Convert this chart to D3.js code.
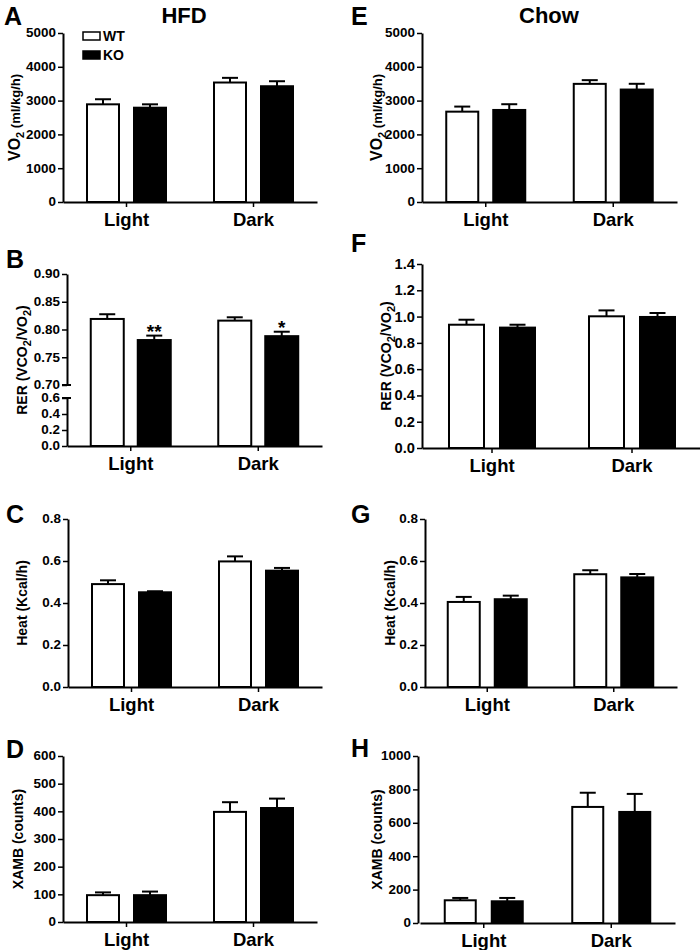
<!DOCTYPE html>
<html>
<head>
<meta charset="utf-8">
<script src="https://cdn.jsdelivr.net/npm/d3@7"></script>
<style>
  html, body { margin: 0; padding: 0; background: #fff; }
  svg text { font-family: "Liberation Sans", Arial, sans-serif; font-weight: bold; fill: #000; }
</style>
</head>
<body>
<script>
// ---------------- DATA ----------------
const categories = ["Light", "Dark"];
const series = ["WT", "KO"];

// HFD
const hfdVo2WT = [2890, 3535];
const hfdVo2KO = [2790, 3425];
const hfdVo2WTsem = [150, 138];
const hfdVo2KOsem = [100, 148];

const hfdRerWT = [0.819, 0.816];
const hfdRerKO = [0.781, 0.788];
const hfdRerWTsem = [0.0085, 0.006];
const hfdRerKOsem = [0.008, 0.008];
const hfdRerKOstars = ["**", "*"];

const hfdHeatWT = [0.490, 0.598];
const hfdHeatKO = [0.451, 0.554];
const hfdHeatWTsem = [0.018, 0.024];
const hfdHeatKOsem = [0.005, 0.013];

const hfdXambWT = [97, 398];
const hfdXambKO = [97, 412];
const hfdXambWTsem = [10, 35];
const hfdXambKOsem = [13, 34];

// Chow
const chowVo2WT = [2673, 3495];
const chowVo2KO = [2723, 3327];
const chowVo2WTsem = [150, 110];
const chowVo2KOsem = [170, 170];

const chowRerWT = [0.938, 1.002];
const chowRerKO = [0.916, 0.997];
const chowRerWTsem = [0.038, 0.045];
const chowRerKOsem = [0.022, 0.030];

const chowHeatWT = [0.405, 0.537];
const chowHeatKO = [0.418, 0.522];
const chowHeatWTsem = [0.024, 0.019];
const chowHeatKOsem = [0.017, 0.016];

const chowXambWT = [136, 695];
const chowXambKO = [130, 665];
const chowXambWTsem = [14, 85];
const chowXambKOsem = [20, 108];

// tick values
const vo2Ticks = [0, 1000, 2000, 3000, 4000, 5000];
const rerUpperTicks = [0.70, 0.75, 0.80, 0.85, 0.90];
const rerLowerTicks = [0.0, 0.2, 0.4, 0.6];
const chowRerTicks = [0.0, 0.2, 0.4, 0.6, 0.8, 1.0, 1.2, 1.4];
const heatTicks = [0.0, 0.2, 0.4, 0.6, 0.8];
const hfdXambTicks = [0, 100, 200, 300, 400, 500, 600];
const chowXambTicks = [0, 200, 400, 600, 800, 1000];

// ---------------- DRAWING ----------------
const svg = d3.select("body").append("svg").attr("width", 700).attr("height", 950);

function yLabel(g, x, yc, parts) {
  const t = g.append("text")
    .attr("transform", `translate(${x},${yc}) rotate(-90)`)
    .attr("text-anchor", "middle");
  parts.forEach(p => {
    t.append("tspan").attr("font-size", p.size).attr("dy", p.dy || 0).text(p.t);
  });
}

function styleYAxis(ax, fs, sx) {
  ax.select(".domain").attr("stroke-width", 2);
  ax.selectAll(".tick line").attr("stroke-width", 1.5);
  ax.selectAll(".tick text")
    .attr("font-size", fs)
    .attr("x", -7 / sx)
    .attr("transform", `scale(${sx},1)`);
}

function panel(cfg) {
  const g = svg.append("g");
  const x0 = d3.scaleBand().domain(categories).range([cfg.xl, cfg.xr]);
  const o = cfg.off;
  const pi = 1 - cfg.bw / (2 * o);
  const x1 = d3.scaleBand().domain(series).range([-2 * o, 2 * o]).paddingInner(pi).paddingOuter(pi / 2);
  const fs = cfg.tfs || 12, sx = cfg.tsx || 1.12;

  // y mapping
  let yMap;
  if (cfg.broken) {
    const yUp = d3.scaleLinear().domain(cfg.upDomain).range(cfg.upRange);
    const yLow = d3.scaleLinear().domain(cfg.lowDomain).range(cfg.lowRange);
    yMap = v => (v >= cfg.upDomain[0] ? yUp(v) : yLow(Math.min(v, cfg.lowDomain[1])));
    const axU = g.append("g").attr("transform", `translate(${cfg.ax},0)`)
      .call(d3.axisLeft(yUp).tickValues(cfg.upTicks).tickSize(5).tickSizeOuter(0).tickPadding(2).tickFormat(d3.format(".2f")));
    styleYAxis(axU, fs, sx);
    const axL = g.append("g").attr("transform", `translate(${cfg.ax},0)`)
      .call(d3.axisLeft(yLow).tickValues(cfg.lowTicks).tickSize(5).tickSizeOuter(0).tickPadding(2).tickFormat(d3.format(".1f")));
    styleYAxis(axL, fs, sx);
    // break caps
    [cfg.upRange[0], cfg.lowRange[1]].forEach(yy => {
      g.append("line").attr("x1", cfg.ax - 5).attr("x2", cfg.ax + 4)
        .attr("y1", yy).attr("y2", yy).attr("stroke", "#000").attr("stroke-width", 2);
    });
  } else {
    const y = d3.scaleLinear().domain([0, d3.max(cfg.ticks)]).range([cfg.yb, cfg.yt]);
    yMap = y;
    const ax = g.append("g").attr("transform", `translate(${cfg.ax},0)`)
      .call(d3.axisLeft(y).tickValues(cfg.ticks).tickSize(5).tickSizeOuter(0).tickPadding(2).tickFormat(d3.format(cfg.fmt)));
    styleYAxis(ax, fs, sx);
  }

  // x axis
  const xa = g.append("g").attr("transform", `translate(0,${cfg.yb})`)
    .call(d3.axisBottom(x0).tickSize(5).tickSizeOuter(0).tickPadding(6));
  xa.select(".domain").attr("stroke-width", 2);
  xa.selectAll(".tick line").attr("stroke-width", 1.5);
  xa.selectAll(".tick text").attr("font-size", 18.5);

  // bars
  const rows = [];
  categories.forEach((c, i) => {
    series.forEach((s, j) => {
      rows.push({ c, s, v: cfg.vals[j][i], e: cfg.sems[j][i], star: (cfg.stars && s === "KO") ? cfg.stars[i] : null });
    });
  });
  const cx = d => x0(d.c) + x0.bandwidth() / 2 + x1(d.s);

  g.selectAll(".err").data(rows).join("g").each(function (d) {
    const gg = d3.select(this);
    const xm = cx(d) + x1.bandwidth() / 2;
    gg.append("line").attr("x1", xm).attr("x2", xm)
      .attr("y1", yMap(d.v)).attr("y2", yMap(d.v + d.e))
      .attr("stroke", "#000").attr("stroke-width", 2);
    gg.append("line").attr("x1", xm - 8).attr("x2", xm + 8)
      .attr("y1", yMap(d.v + d.e)).attr("y2", yMap(d.v + d.e))
      .attr("stroke", "#000").attr("stroke-width", 2);
  });

  g.selectAll(".bar").data(rows).join("rect")
    .attr("x", d => cx(d))
    .attr("width", x1.bandwidth())
    .attr("y", d => yMap(d.v))
    .attr("height", d => cfg.yb - yMap(d.v))
    .attr("fill", d => d.s === "WT" ? "#fff" : "#000")
    .attr("stroke", "#000").attr("stroke-width", 2);

  g.selectAll(".star").data(rows.filter(d => d.star)).join("text")
    .attr("x", d => cx(d) + x1.bandwidth() / 2)
    .attr("y", d => yMap(d.v + d.e) + 2)
    .attr("text-anchor", "middle").attr("font-size", 19)
    .text(d => d.star);

  // y label
  yLabel(g, cfg.lx, (cfg.yb + cfg.yt) / 2, cfg.label);

  // panel letter
  g.append("text").attr("x", cfg.letterX).attr("y", cfg.letterY)
    .attr("font-size", 25).text(cfg.letter);
}

const vo2Label = [{ t: "VO", size: 16 }, { t: "2", size: 11, dy: 4 }, { t: " (ml/kg/h)", size: 13, dy: -4 }];
const rerLabel = [{ t: "RER (VCO", size: 14 }, { t: "2", size: 11, dy: 4 }, { t: "/VO", size: 14, dy: -4 }, { t: "2", size: 11, dy: 4 }, { t: ")", size: 14, dy: -4 }];
const heatLabel = [{ t: "Heat (Kcal/h)", size: 14 }];
const xambLabel = [{ t: "XAMB (counts)", size: 14 }];

// HFD column
panel({ letter: "A", letterX: 4, letterY: 25, xl: 63, xr: 317, ax: 63, yt: 33, yb: 202, off: 23.5, bw: 32,
  ticks: vo2Ticks, fmt: "d", vals: [hfdVo2WT, hfdVo2KO], sems: [hfdVo2WTsem, hfdVo2KOsem], lx: 20, label: vo2Label });
panel({ letter: "B", letterX: 6, letterY: 268, xl: 67, xr: 322, ax: 67, yt: 274, yb: 446, off: 23.5, bw: 33,
  broken: true, upDomain: [0.70, 0.90], upRange: [385, 274], lowDomain: [0, 0.6], lowRange: [446, 398],
  upTicks: rerUpperTicks, lowTicks: rerLowerTicks,
  vals: [hfdRerWT, hfdRerKO], sems: [hfdRerWTsem, hfdRerKOsem], stars: hfdRerKOstars, lx: 27, label: rerLabel });
panel({ letter: "C", letterX: 6, letterY: 523, xl: 68, xr: 322, ax: 68, yt: 519, yb: 687, off: 23.5, bw: 32,
  ticks: heatTicks, fmt: ".1f", vals: [hfdHeatWT, hfdHeatKO], sems: [hfdHeatWTsem, hfdHeatKOsem], lx: 27, label: heatLabel });
panel({ letter: "D", letterX: 6, letterY: 758, xl: 63, xr: 317, ax: 63, yt: 756, yb: 922, off: 23.5, bw: 32,
  ticks: hfdXambTicks, fmt: "d", vals: [hfdXambWT, hfdXambKO], sems: [hfdXambWTsem, hfdXambKOsem], lx: 23, label: xambLabel });

// Chow column
panel({ letter: "E", letterX: 351, letterY: 25, xl: 422, xr: 677, ax: 422, yt: 33, yb: 202, off: 23.5, bw: 32,
  ticks: vo2Ticks, fmt: "d", vals: [chowVo2WT, chowVo2KO], sems: [chowVo2WTsem, chowVo2KOsem], lx: 382, label: vo2Label });
panel({ letter: "F", letterX: 351, letterY: 252, xl: 422, xr: 702, ax: 422, yt: 264, yb: 448, off: 25.5, bw: 35,
  tfs: 14, tsx: 1.05,
  ticks: chowRerTicks, fmt: ".1f", vals: [chowRerWT, chowRerKO], sems: [chowRerWTsem, chowRerKOsem], lx: 391, label: rerLabel });
panel({ letter: "G", letterX: 351, letterY: 523, xl: 424, xr: 677, ax: 425, yt: 519, yb: 687, off: 23.5, bw: 32,
  ticks: heatTicks, fmt: ".1f", vals: [chowHeatWT, chowHeatKO], sems: [chowHeatWTsem, chowHeatKOsem], lx: 395, label: heatLabel });
panel({ letter: "H", letterX: 351, letterY: 757, xl: 420, xr: 675, ax: 418, yt: 756, yb: 923, off: 23.5, bw: 31,
  ticks: chowXambTicks, fmt: "d", vals: [chowXambWT, chowXambKO], sems: [chowXambWTsem, chowXambKOsem], lx: 382, label: xambLabel });

// column titles
svg.append("text").attr("x", 184).attr("y", 23).attr("text-anchor", "middle").attr("font-size", 22).text("HFD");
svg.append("text").attr("x", 549).attr("y", 23).attr("text-anchor", "middle").attr("font-size", 22).text("Chow");

// legend
const leg = svg.append("g");
leg.selectAll("rect").data(series).join("rect")
  .attr("x", 83).attr("y", (d, i) => 32 + i * 19).attr("width", 17).attr("height", 8)
  .attr("fill", d => d === "WT" ? "#fff" : "#000").attr("stroke", "#000").attr("stroke-width", 1.5);
leg.selectAll("text").data(series).join("text")
  .attr("x", 103).attr("y", (d, i) => 41 + i * 19).attr("font-size", 14).text(d => d);
</script>
</body>
</html>
